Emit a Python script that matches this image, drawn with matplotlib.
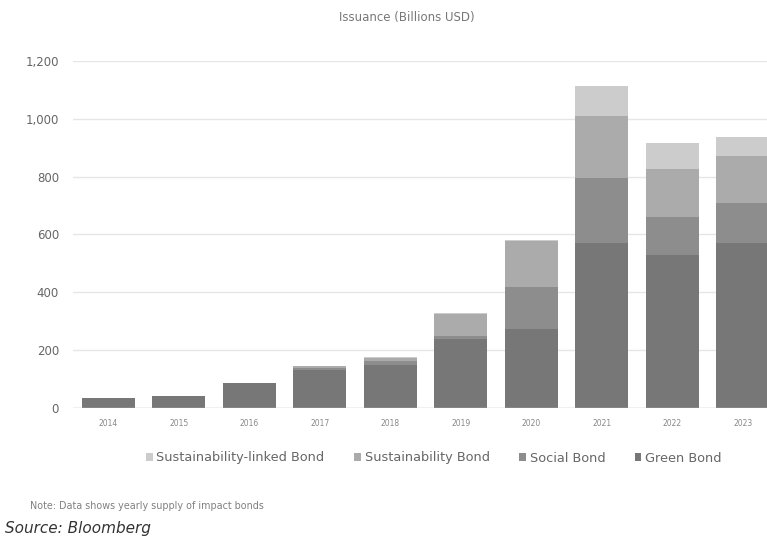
import numpy as np
import matplotlib
matplotlib.use('Agg')
import matplotlib.pyplot as plt

plt.rcParams['font.family'] = ['DejaVu Sans']

years = ['2014', '2015', '2016', '2017', '2018', '2019', '2020', '2021', '2022', '2023']
green = [35, 41, 86, 131, 150, 240, 273, 571, 529, 571]
social = [0, 0, 1, 8, 14, 8, 146, 224, 131, 138]
sustainability = [0, 0, 0, 6, 10, 77, 158, 215, 166, 162]
sust_linked = [0, 0, 0, 0, 2, 3, 4, 105, 90, 66]

series = [
	('Green Bond', green, '#777777'),
	('Social Bond', social, '#8d8d8d'),
	('Sustainability Bond', sustainability, '#ababab'),
	('Sustainability-linked Bond', sust_linked, '#cccccc'),
]

fig = plt.figure(figsize=(7.67, 5.37), dpi=100)
ax = fig.add_axes([73/767, 129/537, 705/767, 347/537])

x = np.arange(len(years))
bottom = np.zeros(len(years))
handles = {}
for name, vals, col in series:
	vals = np.array(vals, dtype=float)
	b = ax.bar(x, vals, 0.75, bottom=bottom, color=col, label=name, zorder=2)
	handles[name] = b
	bottom = bottom + vals

ax.set_ylim(0, 1200)
ax.set_xlim(-0.5, len(years) - 0.5)
ax.set_yticks(np.arange(0, 1201, 200))
ax.set_yticklabels(['{:,}'.format(v) for v in range(0, 1201, 200)])
ax.set_xticks(x)
ax.set_xticklabels(years)
ax.grid(axis='y', color='#e6e6e6', lw=1, zorder=0)
ax.axhline(0, color='#c8c8c8', lw=1, zorder=3)
for s in ax.spines.values():
	s.set_visible(False)
ax.tick_params(axis='y', length=0, labelsize=8.5, labelcolor='#666666', pad=10)
ax.tick_params(axis='x', length=0, labelsize=5.5, labelcolor='#888888', pad=8)

order = ['Sustainability-linked Bond', 'Sustainability Bond', 'Social Bond', 'Green Bond']
leg = fig.legend([handles[n] for n in order], order, loc='center', bbox_to_anchor=(434/767, 1 - 458/537),
	ncol=4, frameon=False, fontsize=9.3, handlelength=0.5, handleheight=0.5, handletextpad=0.3,
	columnspacing=2.3)
for t in leg.get_texts():
	t.set_color('#666666')

fig.text(407/767, 1 - 17/537, 'Issuance (Billions USD)', ha='center', va='center', fontsize=8.5, color='#777777')
fig.text(30/767, 1 - 506/537, 'Note: Data shows yearly supply of impact bonds', ha='left', va='center', fontsize=6.9, color='#808080')
fig.text(5/767, 1 - 529/537, 'Source: Bloomberg', ha='left', va='center', fontsize=11, style='italic', color='#333333')

fig.savefig('out.png', dpi=100)
